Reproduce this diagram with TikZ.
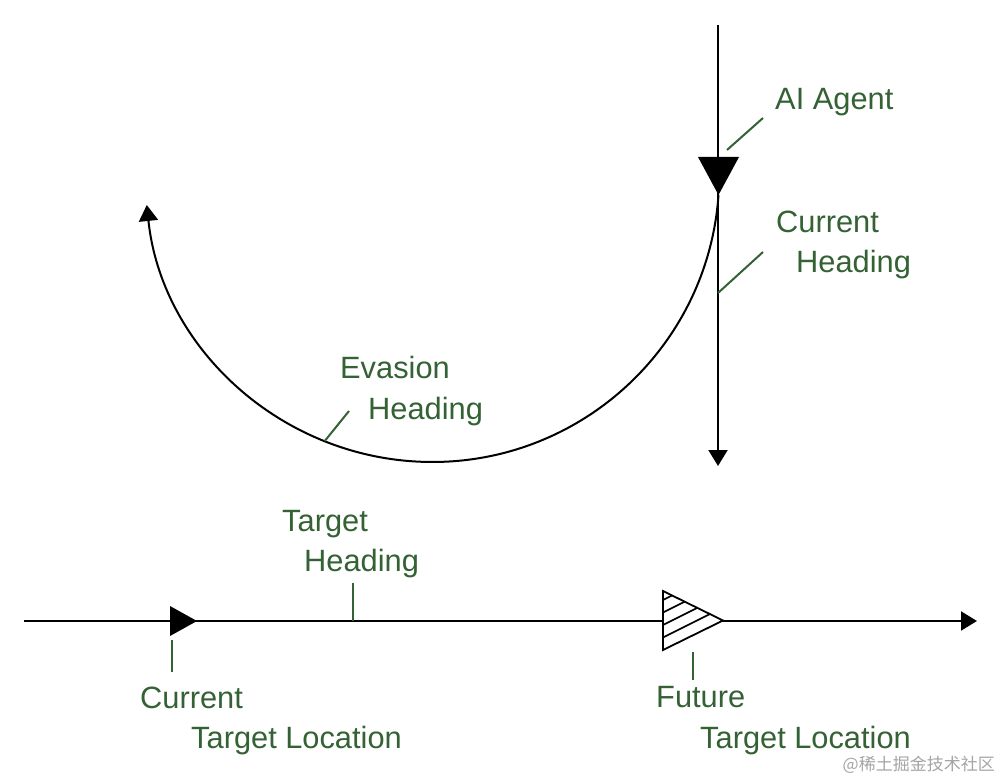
\documentclass[tikz,border=0pt]{standalone}
\usepackage{fontspec}
\setmainfont{Liberation Sans}
\newfontfamily\cjk{Noto Sans CJK SC}
\usetikzlibrary{arrows.meta}
\definecolor{lblgreen}{RGB}{52,98,52}
\definecolor{wmgray}{RGB}{165,165,165}
\begin{document}
\begin{tikzpicture}[x=1pt,y=-1pt,
  mainline/.style={line width=2pt,black},
  tick/.style={line width=2pt,lblgreen},
  lbl/.style={font=\fontsize{30.8}{36}\selectfont,text=lblgreen,anchor=base west,inner sep=0pt},
  tipv/.style={-{Triangle[length=16pt,width=19pt]}}]
\useasboundingbox[fill=white] (0,0) rectangle (1002,778);

% ---- agent heading line
\draw[mainline,tipv] (718,25) coordinate (vtop) -- (718,466) coordinate (vbot);
\coordinate (curhd) at (718,293);

% ---- evasion arc
\draw[mainline,tipv] (718.5,195) coordinate (agent) arc[start angle=4, end angle=174, x radius=287, y radius=287] coordinate (evend);
\path (718.5,195) arc[start angle=4, end angle=112, x radius=287, y radius=287] coordinate (evtick);

% ---- AI agent triangle
\fill[black] (698,157) -- (739,157) -- (agent) -- cycle;

% ---- target line
\draw[mainline,tipv] (24,621) coordinate (tstart) -- (977,621) coordinate (tend);
\fill[black] (170,606) -- (197,621) coordinate (curtgt) -- (170,636) -- cycle;

% future target (hatched)
\filldraw[fill=white,draw=black,line width=1.8pt,line join=miter] (663,591) -- (723,620.5) coordinate (futtgt) -- (663,650) -- cycle;
\begin{scope}
  \clip (663,591) -- (723,620.5) -- (663,650) -- cycle;
  \foreach \yy in {600,612.5,625,637.5}
    \draw[line width=1.6pt] (663,\yy) -- ++(70,-35);
\end{scope}

% ---- labels
\node[lbl] (lai) at (775,110) {AI Agent};
\node[lbl] (lch1) at (776,233) {Current};
\node[lbl] (lch2) at (796,273) {Heading};
\node[lbl] (leh1) at (340,378) {Evasion};
\node[lbl] (leh2) at (368,419) {Heading};
\node[lbl] (lth1) at (282,531) {Target};
\node[lbl] (lth2) at (304,571) {Heading};
\node[lbl] (lct1) at (140,708) {Current};
\node[lbl] (lct2) at (191,748) {Target Location};
\node[lbl] (lft1) at (656,707) {Future};
\node[lbl] (lft2) at (700,748) {Target Location};

% ---- ticks
\draw[tick] (727,150) -- (763,118);
\draw[tick] (curhd) -- (763,252);
\draw[tick] (evtick) -- (349,411);
\draw[tick] (353,621) -- (353,583);
\draw[tick] (172,640) -- (172,672);
\draw[tick] (693,652) -- (693,680);

% ---- watermark
\node[font=\cjk\fontsize{17}{17}\selectfont,text=wmgray,anchor=base east,inner sep=0pt] (wm) at (995,770) {@稀土掘金技术社区};
\end{tikzpicture}
\end{document}
